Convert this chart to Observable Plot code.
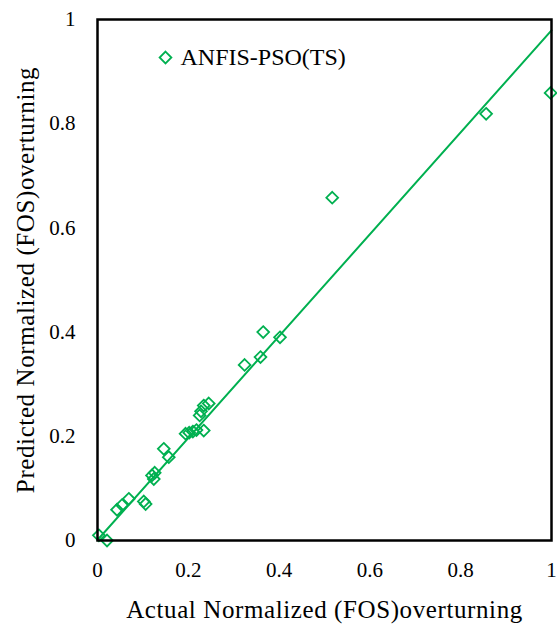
<!DOCTYPE html>
<html>
<head>
<meta charset="utf-8">
<script src="https://cdn.jsdelivr.net/npm/d3@7"></script>
<script src="https://cdn.jsdelivr.net/npm/@observablehq/plot@0.6"></script>
<style>
  html, body { margin: 0; padding: 0; background: #fff; }
  #chart svg { display: block; }
  #chart g[aria-description="axis title"] text { letter-spacing: 0.6px; }
</style>
</head>
<body>
<div id="chart"></div>
<script>
// Actual vs. predicted normalized factor of safety against overturning
const seriesName = "ANFIS-PSO(TS)";
const actual = [
  0.003, 0.021, 0.043, 0.054, 0.069, 0.102, 0.106, 0.120, 0.126, 0.124,
  0.146, 0.157, 0.194, 0.202, 0.210, 0.218, 0.234, 0.225, 0.228, 0.234,
  0.245, 0.324, 0.359, 0.365, 0.402, 0.517, 0.856, 0.998
];
const predicted = [
  0.010, 0.000, 0.059, 0.068, 0.080, 0.075, 0.070, 0.125, 0.130, 0.118,
  0.176, 0.160, 0.205, 0.207, 0.209, 0.212, 0.211, 0.240, 0.248, 0.259,
  0.263, 0.337, 0.352, 0.400, 0.390, 0.658, 0.819, 0.859
];
// Fitted trend line y = slope * x + intercept
const trendSlope = 0.978;
const trendIntercept = 0.001;
const trendRange = [0, 1];

const xTicks = [0, 0.2, 0.4, 0.6, 0.8, 1];
const yTicks = [0, 0.2, 0.4, 0.6, 0.8, 1];
const xTitle = "Actual Normalized (FOS)overturning";
const yTitle = "Predicted Normalized (FOS)overturning";

const green = "#00B050";
const serif = "'Liberation Serif', serif";
const points = actual.map((a, i) => ({actual: a, predicted: predicted[i]}));
const trend = trendRange.map(x => ({x, y: trendSlope * x + trendIntercept}));

const chart = Plot.plot({
  width: 557,
  height: 628,
  marginLeft: 97,
  marginRight: 6,
  marginTop: 19,
  marginBottom: 88,
  style: {fontFamily: serif, fontSize: "21px", color: "#000", background: "#fff"},
  x: {domain: [0, 1]},
  y: {domain: [0, 1]},
  marks: [
    Plot.axisX(xTicks, {tickSize: 0, tickPadding: 22, tickFormat: d => String(d), fontSize: 21, label: null}),
    Plot.axisY(yTicks, {tickSize: 0, tickPadding: 22, tickFormat: d => String(d), fontSize: 21, label: null}),
    // axis titles
    Plot.text([xTitle], {frameAnchor: "bottom", dy: 69, text: d => d, textAnchor: "middle", lineAnchor: "middle", fontSize: 25, fill: "#000", ariaDescription: "axis title"}),
    Plot.text([yTitle], {frameAnchor: "left", dx: -72, text: d => d, rotate: -90, textAnchor: "middle", lineAnchor: "middle", fontSize: 25, fill: "#000", ariaDescription: "axis title"}),
    Plot.line(trend, {x: "x", y: "y", stroke: green, strokeWidth: 2}),
    Plot.dot(points, {x: "actual", y: "predicted", symbol: "diamond2", r: 5.3, stroke: green, strokeWidth: 1.8, fill: "none"}),
    Plot.frame({stroke: "#000", strokeWidth: 2.5}),
    // legend entry inside the plot area
    Plot.dot([seriesName], {frameAnchor: "top-left", dx: 68, dy: 38, symbol: "diamond2", r: 5.3, stroke: green, strokeWidth: 1.8}),
    Plot.text([seriesName], {frameAnchor: "top-left", dx: 83, dy: 38, text: d => d, textAnchor: "start", lineAnchor: "middle", fontSize: 24, fill: "#000"})
  ]
});
document.getElementById("chart").appendChild(chart);
</script>
</body>
</html>
